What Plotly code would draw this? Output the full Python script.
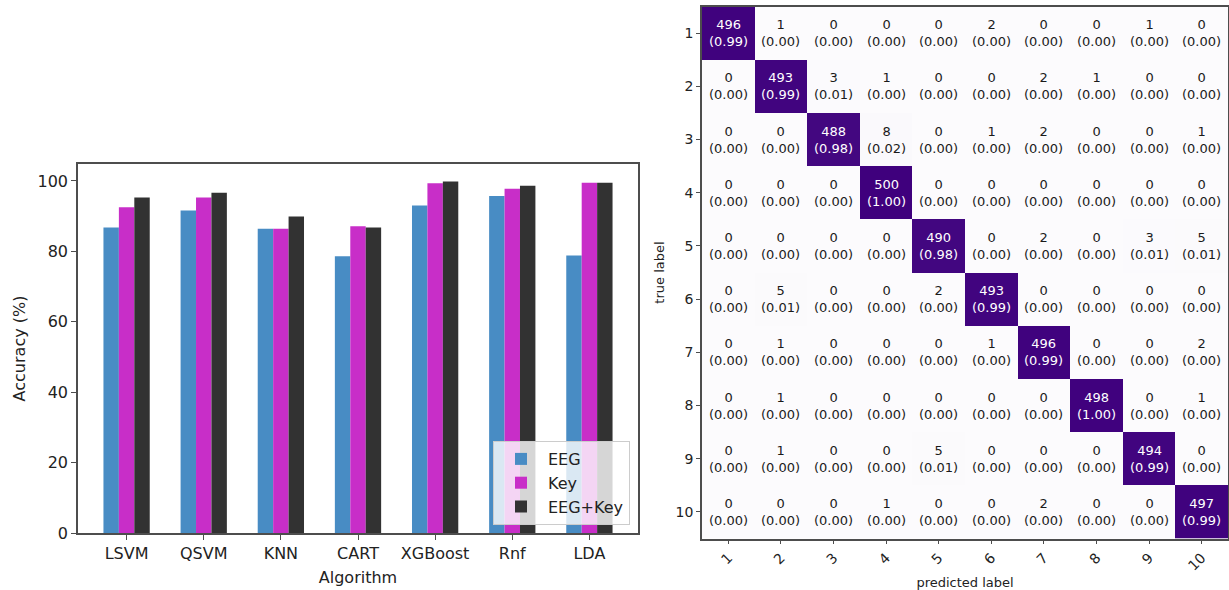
import plotly.graph_objects as go

# ---------------- data ----------------
algorithms = ["LSVM", "QSVM", "KNN", "CART", "XGBoost", "Rnf", "LDA"]
acc_eeg = [86.8, 91.6, 86.4, 78.6, 93.0, 95.7, 78.8]
acc_key = [92.5, 95.3, 86.4, 87.1, 99.3, 97.8, 99.5]
acc_both = [95.3, 96.6, 89.9, 86.8, 99.8, 98.6, 99.5]
series_names = ["EEG", "Key", "EEG+Key"]

cm_classes = [1, 2, 3, 4, 5, 6, 7, 8, 9, 10]
cm_ticktext = ["1", "2", "3", "4", "5", "6", "7", "8", "9", "10"]
cm_row1 = [496, 1, 0, 0, 0, 2, 0, 0, 1, 0]
cm_row2 = [0, 493, 3, 1, 0, 0, 2, 1, 0, 0]
cm_row3 = [0, 0, 488, 8, 0, 1, 2, 0, 0, 1]
cm_row4 = [0, 0, 0, 500, 0, 0, 0, 0, 0, 0]
cm_row5 = [0, 0, 0, 0, 490, 0, 2, 0, 3, 5]
cm_row6 = [0, 5, 0, 0, 2, 493, 0, 0, 0, 0]
cm_row7 = [0, 1, 0, 0, 0, 1, 496, 0, 0, 2]
cm_row8 = [0, 1, 0, 0, 0, 0, 0, 498, 0, 1]
cm_row9 = [0, 1, 0, 0, 5, 0, 0, 0, 494, 0]
cm_row10 = [0, 0, 0, 1, 0, 0, 2, 0, 0, 497]
cm = [cm_row1, cm_row2, cm_row3, cm_row4, cm_row5,
      cm_row6, cm_row7, cm_row8, cm_row9, cm_row10]

# ---------------- style ----------------
FONT = "DejaVu Sans"
C_EEG = "rgb(72,140,196)"
C_KEY = "rgb(200,46,200)"
C_BOTH = "rgb(50,50,50)"
AX = "#4d4d4d"
W, H = 1229, 590

def px(x):
    return x / W

def py(y):
    return (H - y) / H

fig = go.Figure()

for name, vals, col in zip(series_names, [acc_eeg, acc_key, acc_both], [C_EEG, C_KEY, C_BOTH]):
    fig.add_trace(go.Bar(x=algorithms, y=vals, name=name, marker=dict(color=col, line=dict(width=0)),
                         xaxis="x", yaxis="y"))

fig.add_trace(go.Heatmap(
    z=cm, x=cm_classes, y=cm_classes, colorscale="Purples", zmin=0, zmax=500,
    showscale=False, xaxis="x2", yaxis="y2", xgap=0, ygap=0, hoverinfo="skip"))

annotations = []
for i, row in enumerate(cm):
    tot = sum(row)
    for j, v in enumerate(row):
        annotations.append(dict(
            x=cm_classes[j], y=cm_classes[i], xref="x2", yref="y2",
            text=f"{v}<br>({v / tot:.2f})", showarrow=False,
            font=dict(family=FONT, size=13, color="white" if v > 250 else "#1a1a1a")))

fig.update_layout(
    width=W, height=H, template="none",
    paper_bgcolor="white", plot_bgcolor="white",
    margin=dict(l=0, r=0, t=0, b=0, autoexpand=False),
    font=dict(family=FONT, color="#222222"),
    barmode="group", bargap=0.4, bargroupgap=0,
    showlegend=True,
    legend=dict(x=px(630), y=py(525), xanchor="right", yanchor="bottom",
                bgcolor="rgba(255,255,255,0.8)", bordercolor="#cccccc", borderwidth=1,
                font=dict(family=FONT, size=16, color="#222222"), tracegroupgap=0,
                itemwidth=44),
    xaxis=dict(domain=[px(78), px(638)], range=[-0.63, 6.63], showline=True, mirror=True,
               linecolor=AX, linewidth=1.5, ticks="outside", ticklen=5, tickcolor=AX,
               tickfont=dict(size=16), showgrid=False, zeroline=False,
               title=dict(text="Algorithm", font=dict(size=16), standoff=10),
               anchor="y", automargin=False),
    yaxis=dict(domain=[py(533), py(164)], range=[0, 104.8], showline=True, mirror=True,
               linecolor=AX, linewidth=1.5, ticks="outside", ticklen=5, tickcolor=AX,
               tickvals=[0, 20, 40, 60, 80, 100], tickfont=dict(size=16),
               showgrid=False, zeroline=False,
               title=dict(text="Accuracy (%)", font=dict(size=16), standoff=8),
               anchor="x", automargin=False),
    xaxis2=dict(domain=[px(702), px(1228)], range=[0.5, 10.5],
                tickvals=cm_classes, ticktext=cm_ticktext, showline=True, mirror=True,
                linecolor=AX, linewidth=1.5, ticks="outside", ticklen=4, tickcolor=AX,
                tickangle=-45, tickfont=dict(size=14), showgrid=False, zeroline=False,
                title=dict(text="predicted label", font=dict(size=13), standoff=6),
                anchor="y2", automargin=False),
    yaxis2=dict(domain=[py(538.5), py(6.5)], range=[10.5, 0.5],
                tickvals=cm_classes, ticktext=cm_ticktext,
                showline=True, mirror=True,
                linecolor=AX, linewidth=1.5, ticks="outside", ticklen=4, tickcolor=AX,
                tickfont=dict(size=14), showgrid=False, zeroline=False,
                title=dict(text="true label", font=dict(size=13), standoff=8),
                anchor="x2", automargin=False),
    annotations=annotations,
)

fig.write_html("out.html", config={"displayModeBar": False},
               post_script="document.body.style.margin='0';")
